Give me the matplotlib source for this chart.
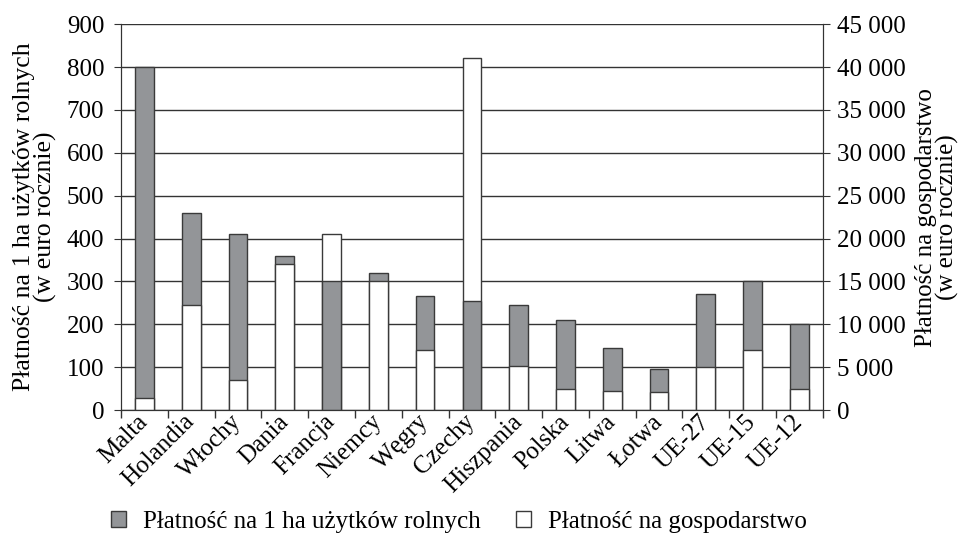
import matplotlib.pyplot as plt
import matplotlib.patches as mpatches
import numpy as np

plt.rcParams['font.family'] = ['Liberation Serif', 'DejaVu Serif']

kraje = ['Malta', 'Holandia', 'Włochy', 'Dania', 'Francja', 'Niemcy', 'Węgry',
         'Czechy', 'Hiszpania', 'Polska', 'Litwa', 'Łotwa', 'UE-27', 'UE-15', 'UE-12']
na_ha = [800, 460, 410, 360, 300, 320, 266, 255, 245, 210, 144, 95, 270, 300, 200]
na_gosp = [1450, 12300, 3500, 17000, 20500, 15000, 7000, 41000, 5150, 2500,
           2250, 2050, 5000, 7000, 2500]
lewe_ticks = list(range(0, 901, 100))
prawe_ticks = list(range(0, 45001, 5000))

szary = '#939598'
krawedz = '#3a3a3a'
fs = 18

fig = plt.figure(figsize=(9.68, 5.36), dpi=100)
ax = fig.add_axes([0.125, 0.235, 0.725, 0.72])
ax2 = ax.twinx()

skala = 45000 / 900  # prawa oś / lewa oś
x = np.arange(len(kraje))
gosp_l = np.array(na_gosp) / skala

b1 = ax.bar(x, na_ha, width=0.4, color=szary, edgecolor=krawedz, linewidth=1)
b2 = ax.bar(x, gosp_l, width=0.4, color='white', edgecolor=krawedz, linewidth=1)
# mniejszy słupek na wierzchu
for i in range(len(kraje)):
    if na_ha[i] > gosp_l[i]:
        b1[i].set_zorder(2)
        b2[i].set_zorder(3)
    else:
        b1[i].set_zorder(3)
        b2[i].set_zorder(2)

ax.set_xlim(-0.5, len(kraje) - 0.5)
ax.set_ylim(0, 900)
ax2.set_ylim(0, 45000)
ax.set_yticks(lewe_ticks)
ax2.set_yticks(prawe_ticks)
ax2.set_yticklabels([f'{v:,}'.replace(',', ' ') for v in prawe_ticks])
ax.yaxis.grid(True, color='#333333', linewidth=1)
ax.set_axisbelow(True)

ax.set_xticks(x)
ax.set_xticklabels(kraje, rotation=45, ha='right', va='center',
                   rotation_mode='anchor', fontsize=fs)
ax.set_xticks(np.arange(-0.5, len(kraje)), minor=True)
ax.tick_params(axis='x', which='major', length=0, pad=6)
ax.tick_params(axis='x', which='minor', length=6, width=1, color='#333333')
ax.tick_params(axis='y', labelsize=fs, length=5, color='#333333', pad=7)
ax2.tick_params(axis='y', labelsize=fs, length=5, color='#333333', pad=5)

for a in (ax, ax2):
    a.spines['top'].set_visible(False)
    for s in ('left', 'right', 'bottom'):
        a.spines[s].set_color('#333333')

ax.set_ylabel('Płatność na 1 ha użytków rolnych\n(w euro rocznie)', fontsize=fs + 0.5,
              linespacing=0.95, labelpad=7)
ax2.set_ylabel('Płatność na gospodarstwo\n(w euro rocznie)', fontsize=fs,
               linespacing=0.95, rotation=90, labelpad=7)

h1 = mpatches.Patch(facecolor=szary, edgecolor=krawedz, linewidth=1)
h2 = mpatches.Patch(facecolor='white', edgecolor=krawedz, linewidth=1)
fig.legend([h1, h2], ['Płatność na 1 ha użytków rolnych', 'Płatność na gospodarstwo'],
           loc='center', bbox_to_anchor=(0.474, 0.026), ncol=2, frameon=False,
           fontsize=fs, handlelength=0.6, handleheight=0.6, columnspacing=1.4,
           handletextpad=0.7, borderpad=0, borderaxespad=0)

fig.savefig('out.png', dpi=100)
